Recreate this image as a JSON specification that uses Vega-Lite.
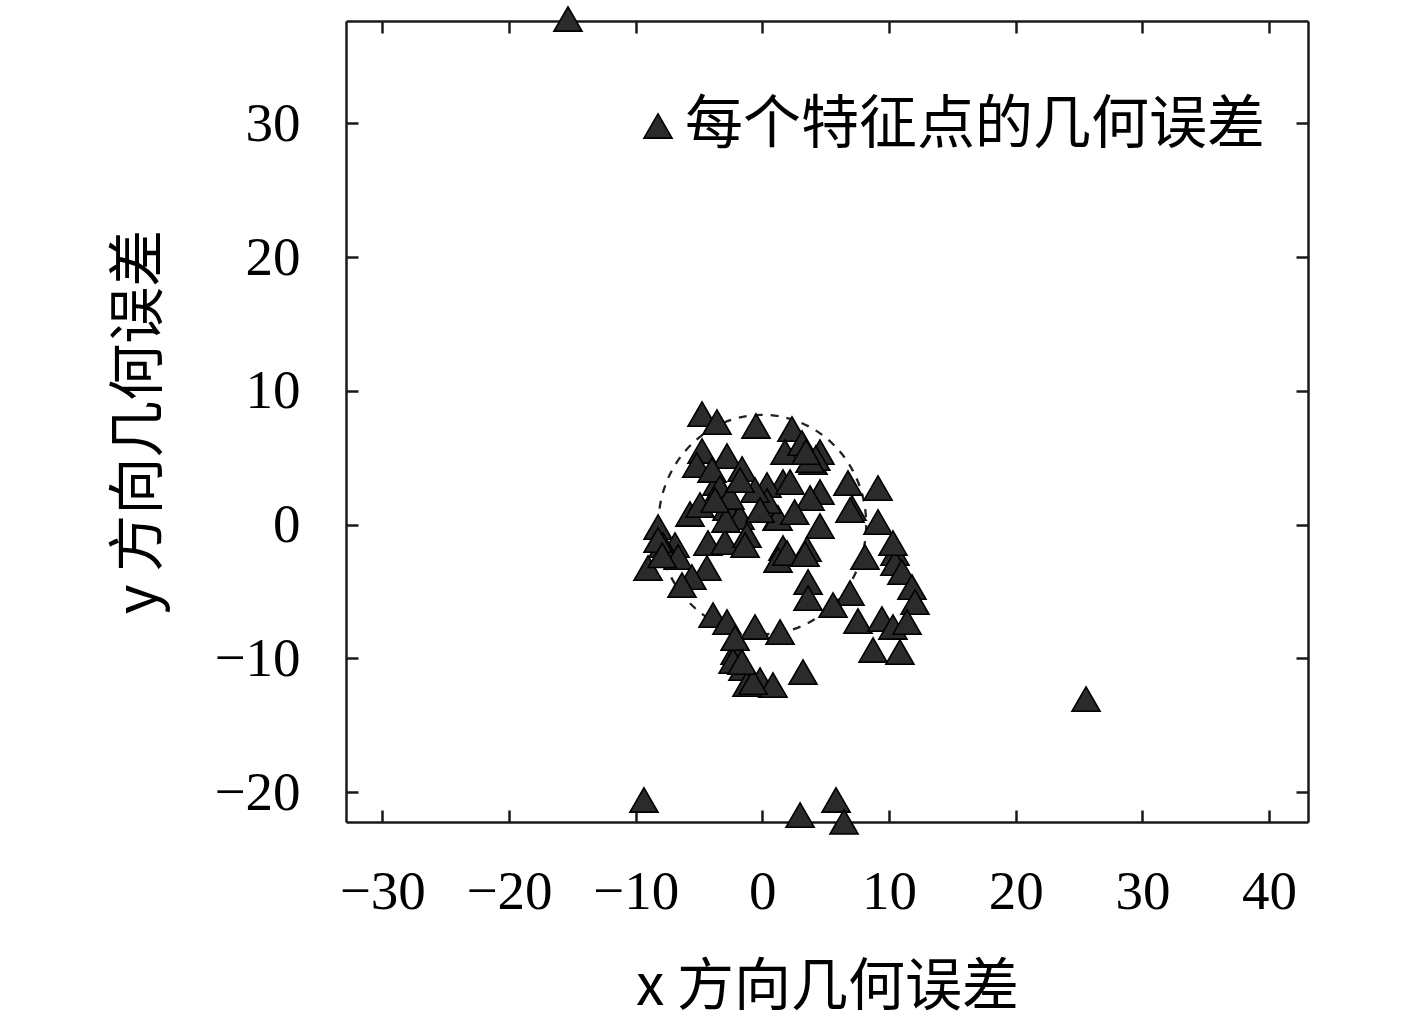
{
  "$schema": "https://vega.github.io/schema/vega-lite/v6.json",
  "autosize": {"type": "none"},
  "width": 962,
  "height": 801,
  "padding": {"left": 346, "top": 21, "right": 109, "bottom": 203},
  "background": "white",
  "config": {
    "view": {"stroke": null},
    "axis": {
      "grid": false,
      "domainColor": "#1a1a1a",
      "domainWidth": 2.5,
      "tickColor": "#1a1a1a",
      "tickWidth": 2.5,
      "tickSize": -12,
      "labelFont": "Liberation Serif",
      "labelFontSize": 55,
      "labelColor": "#000000",
      "titleFont": "Noto Sans CJK SC",
      "titleFontSize": 57,
      "titleFontWeight": "normal",
      "titleColor": "#000000"
    }
  },
  "datasets": {
    "ring": [{"cx": 0, "cy": 0}],
    "pts": [
      {"x": -15.34, "y": 37.8}, {"x": 25.55, "y": -13.05}, {"x": -9.34, "y": -20.59},
      {"x": 2.98, "y": -21.72}, {"x": 5.82, "y": -20.59}, {"x": 6.45, "y": -22.23},
      {"x": 3.21, "y": -11.03}, {"x": -4.76, "y": 8.26}, {"x": -3.58, "y": 7.66},
      {"x": -0.5, "y": 7.37}, {"x": 2.34, "y": 7.14}, {"x": 1.79, "y": 5.42},
      {"x": 3.13, "y": 6.09}, {"x": 4.0, "y": 4.67}, {"x": 4.55, "y": 5.42},
      {"x": 4.22, "y": 4.97}, {"x": 6.76, "y": 3.1}, {"x": 9.13, "y": 2.73},
      {"x": 4.55, "y": 2.43}, {"x": 7.08, "y": 1.23}, {"x": 9.13, "y": 0.19},
      {"x": 1.63, "y": 3.18}, {"x": 1.16, "y": 0.49}, {"x": 4.55, "y": -0.11},
      {"x": -4.76, "y": 5.5}, {"x": -2.79, "y": 5.12}, {"x": -1.6, "y": 4.15},
      {"x": -3.58, "y": 3.1}, {"x": -5.71, "y": 0.79}, {"x": -2.79, "y": 1.23},
      {"x": -1.76, "y": 0.56}, {"x": 0.37, "y": 2.95}, {"x": 2.19, "y": 3.18},
      {"x": 1.24, "y": 0.49}, {"x": 0.37, "y": 1.76}, {"x": -8.23, "y": -0.19},
      {"x": -6.89, "y": -1.53}, {"x": -4.29, "y": -1.38}, {"x": -2.94, "y": -1.31},
      {"x": -1.21, "y": -0.79}, {"x": 1.63, "y": -1.76}, {"x": 3.53, "y": -1.83},
      {"x": 3.77, "y": 1.98}, {"x": 6.92, "y": 1.08}, {"x": -5.17, "y": 4.45},
      {"x": -9.02, "y": -3.25}, {"x": -7.84, "y": -1.53}, {"x": -6.65, "y": -2.43},
      {"x": -4.37, "y": -3.25}, {"x": -5.56, "y": -3.93}, {"x": -6.34, "y": -4.53},
      {"x": 1.24, "y": -2.65}, {"x": -3.89, "y": -6.77}, {"x": -2.79, "y": -7.29},
      {"x": -0.58, "y": -7.66}, {"x": 1.4, "y": -8.04}, {"x": -2.15, "y": -9.53},
      {"x": -2.31, "y": -10.21}, {"x": -1.52, "y": -10.73}, {"x": -0.18, "y": -11.63},
      {"x": 0.84, "y": -12.0}, {"x": -1.21, "y": -11.93}, {"x": -2.15, "y": -8.49},
      {"x": 1.95, "y": -2.13}, {"x": 3.37, "y": -2.21}, {"x": 3.61, "y": -4.3},
      {"x": 3.61, "y": -5.5}, {"x": 8.1, "y": -2.43}, {"x": 10.47, "y": -2.13},
      {"x": 10.47, "y": -2.88}, {"x": 11.02, "y": -3.55}, {"x": 11.81, "y": -4.67},
      {"x": 12.05, "y": -5.8}, {"x": 6.92, "y": -5.12}, {"x": 5.58, "y": -6.02},
      {"x": 7.55, "y": -7.22}, {"x": 9.44, "y": -7.07}, {"x": 10.31, "y": -7.66},
      {"x": 11.42, "y": -7.29}, {"x": 8.74, "y": -9.38}, {"x": 10.86, "y": -9.53},
      {"x": 10.31, "y": -1.38}, {"x": -3.97, "y": 4.08}, {"x": -3.34, "y": 2.73},
      {"x": -2.55, "y": 2.06}, {"x": -4.92, "y": 1.46}, {"x": -0.58, "y": 2.58},
      {"x": -1.76, "y": 3.33}, {"x": -0.18, "y": 1.08}, {"x": 2.55, "y": 0.93},
      {"x": 3.77, "y": 4.82}, {"x": 3.45, "y": 5.42}, {"x": -2.87, "y": 0.34},
      {"x": -1.36, "y": -1.53}, {"x": -0.73, "y": -11.78}, {"x": -1.6, "y": -10.28},
      {"x": -8.23, "y": -1.16}, {"x": -7.9, "y": -2.3}, {"x": -3.73, "y": 1.83}
    ]
  },
  "resolve": {"axis": {"x": "independent", "y": "independent"}},
  "layer": [
    {
      "data": {"name": "ring"},
      "mark": {
        "type": "point",
        "shape": "M-0.947,0A0.947,1 0 1,1 0.947,0A0.947,1 0 1,1 -0.947,0Z",
        "size": 48136,
        "filled": false,
        "stroke": "#222222",
        "strokeWidth": 2.3,
        "strokeDash": [8, 8],
        "opacity": 1
      },
      "encoding": {
        "x": {
          "field": "cx", "type": "quantitative",
          "scale": {"domain": [-32.86, 43.07], "nice": false, "zero": false},
          "axis": {
            "orient": "bottom", "values": [-30, -20, -10, 0, 10, 20, 30, 40],
            "labelPadding": 55, "title": "x 方向几何误差", "titlePadding": 40
          }
        },
        "y": {
          "field": "cy", "type": "quantitative",
          "scale": {"domain": [-22.24, 37.65], "nice": false, "zero": false},
          "axis": {
            "orient": "left", "values": [-20, -10, 0, 10, 20, 30],
            "labelPadding": 58, "title": "y 方向几何误差", "titlePadding": 45
          }
        }
      }
    },
    {
      "data": {"name": "pts"},
      "mark": {
        "type": "point",
        "shape": "triangle-up",
        "filled": true,
        "size": 790,
        "stroke": "#000000",
        "strokeWidth": 1.6,
        "opacity": 1
      },
      "encoding": {
        "x": {
          "field": "x", "type": "quantitative",
          "scale": {"domain": [-32.86, 43.07], "nice": false, "zero": false},
          "axis": {"orient": "top", "values": [-30, -20, -10, 0, 10, 20, 30, 40], "labels": false, "title": null}
        },
        "y": {
          "field": "y", "type": "quantitative",
          "scale": {"domain": [-22.24, 37.65], "nice": false, "zero": false},
          "axis": {"orient": "right", "values": [-20, -10, 0, 10, 20, 30], "labels": false, "title": null}
        },
        "color": {
          "datum": "每个特征点的几何误差",
          "scale": {"range": ["#2b2b2b"]},
          "legend": {
            "orient": "none", "legendX": 283, "legendY": 76, "title": null,
            "symbolType": "triangle-up", "symbolSize": 790,
            "symbolStrokeColor": "#000000", "symbolStrokeWidth": 1.6, "symbolOpacity": 1,
            "labelFont": "Noto Sans CJK SC", "labelFontSize": 58, "labelColor": "#000000",
            "labelOffset": -2, "labelLimit": 800
          }
        }
      }
    }
  ]
}
